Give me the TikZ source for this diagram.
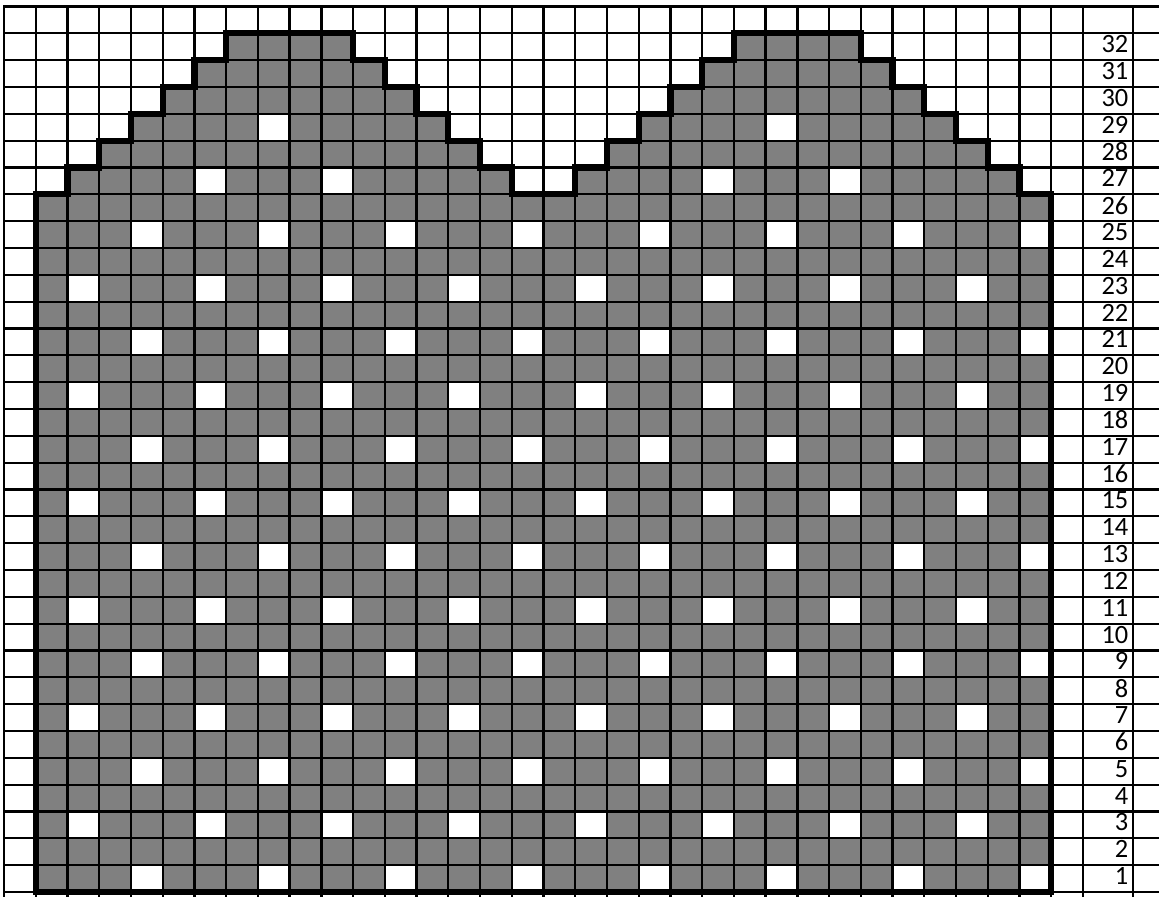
\documentclass[tikz,border=0pt]{standalone}
\usepackage{fontspec}
\setmainfont{Carlito}
\definecolor{cellgray}{RGB}{128,128,128}
\begin{document}
\begin{tikzpicture}[x=1bp,y=-1bp,
  gridline/.style={line width=2.3bp,black},
  outline/.style={line width=6.3bp,black,line join=miter},
  holecell/.style={fill=white},
  graycell/.style={fill=cellgray},
  rowlabel/.style={anchor=east,inner sep=0pt,font=\fontsize{26.5}{30}\selectfont}]
\def\W{31.735}
\def\H{26.833}
\def\heights{1/26,2/27,3/28,4/29,5/30,6/31,7/32,8/32,9/32,10/32,11/31,12/30,13/29,14/28,15/27,16/26,17/26,18/27,19/28,20/29,21/30,22/31,23/32,24/32,25/32,26/32,27/31,28/30,29/29,30/28,31/27,32/26}
\useasboundingbox (0,0) rectangle (1159,897);
\clip (0,0) rectangle (1159,897);
\fill[white] (0,0) rectangle (1159,897);
% gray stitches
\foreach \col/\hh in \heights {
  \fill[graycell] ({4+\col*\W},892) rectangle ({4+(\col+1)*\W},{892-\hh*\H});
}
% white holes
\foreach \r in {1,5,...,25} {
  \foreach \col in {4,8,...,32} {
    \fill[holecell] ({4+\col*\W},{892-\r*\H}) rectangle ({4+(\col+1)*\W},{892-(\r-1)*\H});
  }
}
\foreach \r in {3,7,...,23} {
  \foreach \col in {2,6,...,30} {
    \fill[holecell] ({4+\col*\W},{892-\r*\H}) rectangle ({4+(\col+1)*\W},{892-(\r-1)*\H});
  }
}
\foreach \r/\col in {27/6,27/10,27/22,27/26,29/8,29/24} {
  \fill[holecell] ({4+\col*\W},{892-\r*\H}) rectangle ({4+(\col+1)*\W},{892-(\r-1)*\H});
}
% grid
\foreach \k in {0,...,34} {
  \draw[gridline] ({4+\k*\W},{892-33*\H}) -- ({4+\k*\W},900);
}
\draw[gridline] (1133,{892-33*\H}) -- (1133,900);
\foreach \k in {-1,...,33} {
  \draw[gridline] (3,{892-\k*\H}) -- (1160,{892-\k*\H});
}
% outline
\draw[outline] ({4+\W},892) \foreach \col/\hh in \heights { -- ({4+\col*\W},{892-\hh*\H}) -- ({4+(\col+1)*\W},{892-\hh*\H}) } -- ({4+33*\W},892) -- cycle;
% row labels
\foreach \r in {1,...,32} {
  \node[rowlabel] (lab\r) at (1128.5,{892-(\r-0.5)*\H-2.5}) {\r};
}
\end{tikzpicture}
\end{document}
